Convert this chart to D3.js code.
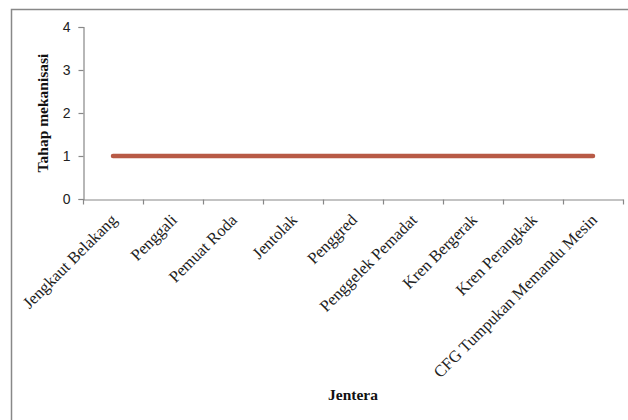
<!DOCTYPE html>
<html><head><meta charset="utf-8">
<script src="https://cdn.jsdelivr.net/npm/d3@7"></script>
<style>body{margin:0;background:#fff}</style>
</head><body>
<svg id="c" width="628" height="420"></svg>
<script>
const categories = ["Jengkaut Belakang","Penggali","Pemuat Roda","Jentolak","Penggred","Penggelek Pemadat","Kren Bergerak","Kren Perangkak","CFG Tumpukan Memandu Mesin"];
const values = [1,1,1,1,1,1,1,1,1];
const yTicks = [0,1,2,3,4];

const svg = d3.select("#c");
svg.append("rect").attr("x",11.5).attr("y",9.5).attr("width",640).attr("height",440)
  .attr("fill","none").attr("stroke","#888").attr("stroke-width",1.5);

const x = d3.scaleBand().domain(categories).range([83,623]);
const y = d3.scaleLinear().domain([0,4]).range([199,27]);

// y axis
const ya = svg.append("g").attr("transform","translate(83.5,0)")
  .call(d3.axisLeft(y).tickValues(yTicks).tickSize(5).tickPadding(8).tickFormat(d3.format("d")));
ya.select(".domain").attr("stroke","#888").attr("stroke-width",1.2);
ya.selectAll(".tick line").attr("stroke","#888").attr("stroke-width",1.2);
ya.selectAll(".tick text").attr("font-family","Arial, 'Liberation Sans', sans-serif").attr("font-size",14).attr("fill","#222");

// x axis
const xa = svg.append("g").attr("transform","translate(0,199.5)")
  .call(d3.axisBottom(x).tickSize(0).tickFormat(""));
xa.select(".domain").attr("stroke","#888").attr("stroke-width",1.2);
const bounds = categories.map(c=>x(c)).concat([x.range()[1]]);
xa.selectAll(".bt").data(bounds).enter().append("line").attr("class","bt")
  .attr("x1",d=>Math.round(d)+0.5).attr("x2",d=>Math.round(d)+0.5).attr("y1",0).attr("y2",5)
  .attr("stroke","#888").attr("stroke-width",1.2);

svg.append("g").selectAll("text").data(categories).enter().append("text")
  .attr("transform",d=>`translate(${x(d)+x.bandwidth()/2+5},221) rotate(-45)`)
  .attr("text-anchor","end")
  .attr("font-family","'Liberation Serif','Times New Roman',serif")
  .attr("font-size",16.5).attr("fill","#222")
  .text(d=>d);

// line
const line = d3.line().x((d,i)=>x(categories[i])+x.bandwidth()/2).y(d=>y(d));
svg.append("path").datum(values).attr("d",line).attr("fill","none")
  .attr("stroke","#B85A46").attr("stroke-width",4.5).attr("stroke-linecap","round");

// titles
svg.append("text").attr("transform","translate(48,113) rotate(-90)").attr("text-anchor","middle")
  .attr("font-family","'Liberation Serif','Times New Roman',serif").attr("font-weight","bold")
  .attr("font-size",15.5).attr("fill","#111").text("Tahap mekanisasi");
svg.append("text").attr("x",353).attr("y",400).attr("text-anchor","middle")
  .attr("font-family","'Liberation Serif','Times New Roman',serif").attr("font-weight","bold")
  .attr("font-size",15.5).attr("fill","#111").text("Jentera");
</script>
</body></html>
